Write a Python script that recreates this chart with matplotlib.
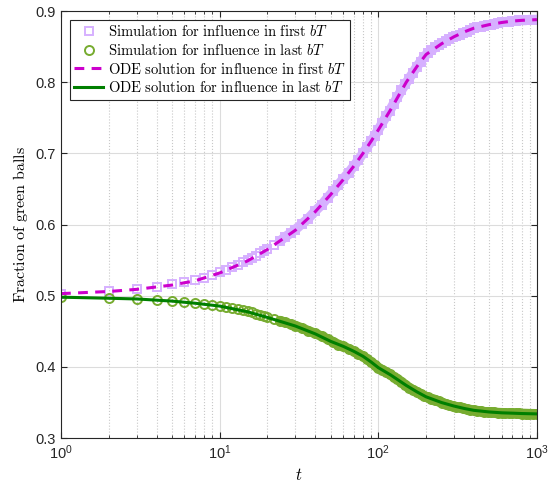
import matplotlib
matplotlib.use("Agg")
import matplotlib.pyplot as plt
from matplotlib.ticker import LogLocator, NullFormatter, MultipleLocator


# Data

sim_t = [1, 2, 3, 4, 5, 6, 7, 8, 9, 10, 11, 12, 13, 14, 15, 16, 17, 18, 19, 20,
         22, 24, 26, 28, 30, 33, 36, 40, 44, 48, 52, 56, 60, 65, 70, 75, 80, 85,
         90, 95, 100, 106, 112, 118, 125, 132, 140, 148, 156, 165, 175, 185, 195,
         205, 216, 228, 240, 253, 266, 280, 295, 310, 326, 343, 360, 380, 400,
         420, 442, 465, 490, 515, 540, 570, 600, 630, 665, 700, 735, 770, 810,
         850, 895, 940, 1000]

sim_first = [0.503, 0.507, 0.510, 0.513, 0.516, 0.519, 0.522, 0.525, 0.529, 0.533,
             0.536, 0.540, 0.543, 0.547, 0.550, 0.553, 0.556, 0.560, 0.563, 0.566,
             0.572, 0.577, 0.583, 0.588, 0.593, 0.601, 0.608, 0.619, 0.628, 0.638,
             0.647, 0.656, 0.664, 0.673, 0.682, 0.691, 0.700, 0.709, 0.717, 0.725,
             0.733, 0.743, 0.752, 0.760, 0.770, 0.779, 0.789, 0.797, 0.805, 0.813,
             0.822, 0.829, 0.836, 0.841, 0.845, 0.849, 0.852, 0.855, 0.858, 0.861,
             0.863, 0.865, 0.867, 0.869, 0.871, 0.873, 0.876, 0.877, 0.878, 0.879,
             0.880, 0.881, 0.882, 0.883, 0.884, 0.885, 0.885, 0.886, 0.886, 0.887,
             0.887, 0.887, 0.888, 0.888, 0.888]

sim_last = [0.498, 0.497, 0.496, 0.4945, 0.493, 0.4915, 0.490, 0.489, 0.4875, 0.486,
            0.4845, 0.483, 0.481, 0.4795, 0.478, 0.4765, 0.475, 0.473, 0.4715, 0.470,
            0.4675, 0.465, 0.4625, 0.460, 0.458, 0.4545, 0.451, 0.447, 0.443, 0.439,
            0.435, 0.4315, 0.429, 0.4255, 0.422, 0.4185, 0.415, 0.411, 0.407, 0.403,
            0.399, 0.396, 0.393, 0.390, 0.386, 0.383, 0.379, 0.375, 0.371, 0.368,
            0.365, 0.362, 0.359, 0.3572, 0.3555, 0.354, 0.352, 0.350, 0.348, 0.3465,
            0.345, 0.344, 0.343, 0.342, 0.341, 0.340, 0.339, 0.3385, 0.338, 0.337,
            0.3367, 0.3363, 0.336, 0.3357, 0.3355, 0.3352, 0.335, 0.335, 0.3348, 0.3347,
            0.3345, 0.3344, 0.3342, 0.3341, 0.334]

ode_t = [1, 2, 3, 5, 7, 10, 15, 20, 30, 40, 50, 60, 70, 80, 90, 100, 120, 150,
         175, 200, 250, 300, 350, 400, 500, 600, 700, 800, 1000]

ode_first = [0.503, 0.506, 0.509, 0.515, 0.521, 0.532, 0.549, 0.565, 0.592, 0.618,
             0.642, 0.663, 0.682, 0.700, 0.717, 0.733, 0.762, 0.800, 0.822, 0.839,
             0.854, 0.864, 0.871, 0.876, 0.881, 0.884, 0.886, 0.887, 0.888]

ode_last = [0.498, 0.4965, 0.4955, 0.4925, 0.4895, 0.4855, 0.4775, 0.4695, 0.4575,
            0.4465, 0.436, 0.429, 0.422, 0.415, 0.407, 0.399, 0.3885, 0.374, 0.365,
            0.358, 0.350, 0.345, 0.3415, 0.339, 0.3367, 0.3355, 0.335, 0.3345, 0.334]

labels = [
    r"$\mathrm{Simulation\ for\ influence\ in\ first}\ bT$",
    r"$\mathrm{Simulation\ for\ influence\ in\ last}\ bT$",
    r"$\mathrm{ODE\ solution\ for\ influence\ in\ first}\ bT$",
    r"$\mathrm{ODE\ solution\ for\ influence\ in\ last}\ bT$",
]

PURPLE = "#d6b0ff"
LIGHT_GREEN = "#77ac30"

# where the markers sit so close together that they merge into a band
dense = [i for i, t in enumerate(sim_t) if t >= 24]
band_t = [sim_t[i] for i in dense]
band_first = [sim_first[i] for i in dense]
band_last = [sim_last[i] for i in dense]


# Plot

plt.rcParams["font.family"] = ["Liberation Sans", "DejaVu Sans"]
plt.rcParams["mathtext.fontset"] = "cm"

fig = plt.figure(figsize=(5.57, 4.83), dpi=100)
ax = fig.add_axes([0.1095, 0.093, 0.8545, 0.884])

ax.plot(band_t, band_first, color=PURPLE, linewidth=7, solid_capstyle="round",
        label="_nolegend_")
ax.plot(band_t, band_last, color=LIGHT_GREEN, linewidth=7,
        solid_capstyle="round", label="_nolegend_")

ax.plot(sim_t, sim_first, linestyle="none", marker="s", markersize=6,
        markerfacecolor="none", markeredgecolor=PURPLE, markeredgewidth=1.4,
        label=labels[0])
ax.plot(sim_t, sim_last, linestyle="none", marker="o", markersize=6.5,
        markerfacecolor="none", markeredgecolor=LIGHT_GREEN, markeredgewidth=1.4,
        label=labels[1])
ax.plot(ode_t, ode_first, linestyle=(0, (3.2, 2.4)), color="#cc00cc",
        linewidth=2.2, label=labels[2])
ax.plot(ode_t, ode_last, linestyle="-", color="#007f00", linewidth=2.2,
        label=labels[3])

ax.set_xscale("log")
ax.set_xlim(1, 1000)
ax.set_ylim(0.3, 0.9)
ax.yaxis.set_major_locator(MultipleLocator(0.1))
ax.xaxis.set_major_locator(LogLocator(base=10))
ax.xaxis.set_minor_locator(LogLocator(base=10, subs=range(2, 10)))
ax.xaxis.set_minor_formatter(NullFormatter())

ax.grid(True, which="major", color="#dcdcdc", linewidth=0.8)
ax.grid(True, which="minor", axis="x", color="#c8c8c8", linestyle=":",
        linewidth=0.8)
ax.set_axisbelow(True)

for side in ax.spines.values():
    side.set_color("#262626")
    side.set_linewidth(0.8)
ax.tick_params(which="both", direction="in", top=True, right=True,
               colors="#262626", labelsize=10.5)
ax.tick_params(which="major", length=4)
ax.tick_params(which="minor", length=2.5)

ax.set_xlabel(r"$t$", fontsize=12)
ax.set_ylabel(r"$\mathrm{Fraction\ of\ green\ balls}$", fontsize=11.5)

leg = ax.legend(loc="upper left", fontsize=10.5, frameon=True, fancybox=False,
                edgecolor="#262626", framealpha=1, borderaxespad=0.6,
                handlelength=2.0, handletextpad=0.3, labelspacing=0.25,
                borderpad=0.3)
leg.get_frame().set_linewidth(0.8)

plt.savefig("out.png", dpi=100)
plt.close()
